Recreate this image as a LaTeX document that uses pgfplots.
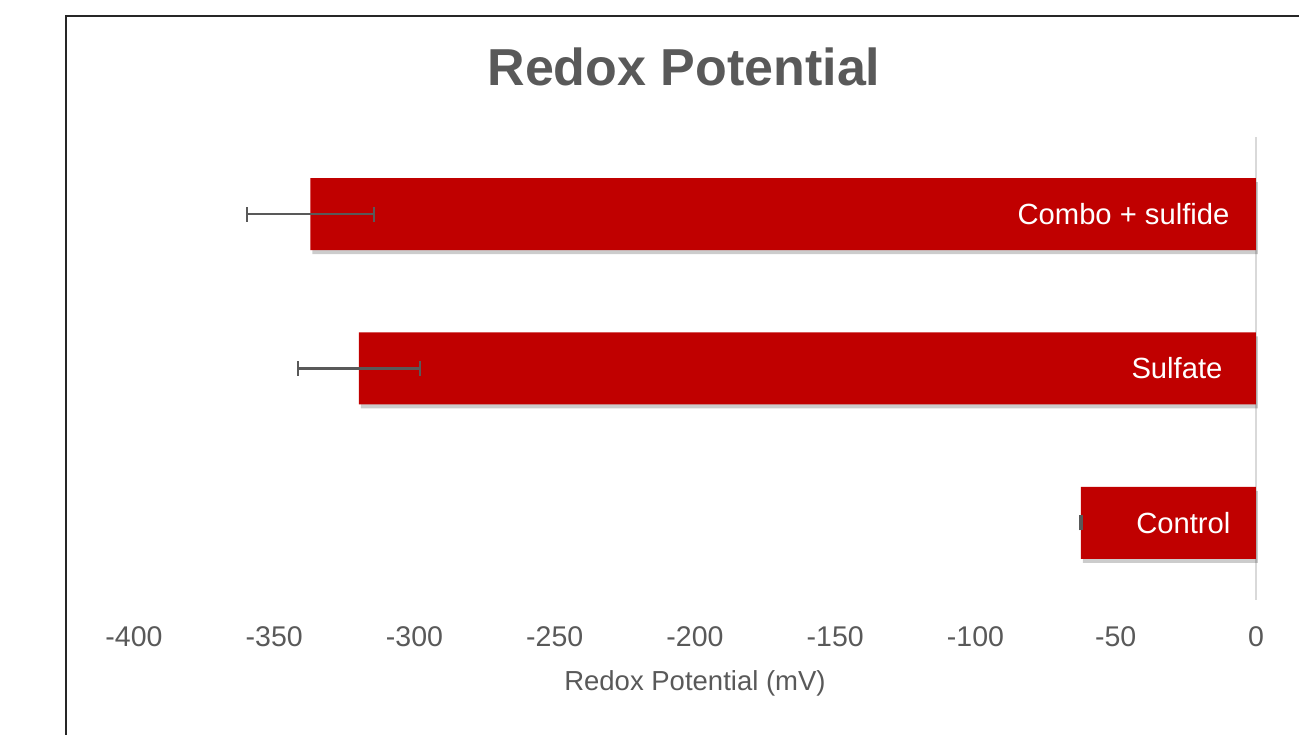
\documentclass[border=0pt]{standalone}
\usepackage{pgfplots}
\pgfplotsset{compat=1.18}
\usepackage{fontspec}
\setmainfont{Liberation Sans}
\usetikzlibrary{shadows}
\definecolor{barred}{HTML}{C00000}
\definecolor{textgray}{HTML}{595959}
\definecolor{zerogray}{HTML}{D9D9D9}
\begin{document}
\begin{tikzpicture}[x=1pt,y=1pt]
\path[use as bounding box] (0,0) rectangle (1299,735);
\draw[line width=2pt, color=black!85] (66,-10) -- (66,719) -- (1310,719);
\node[font=\bfseries\fontsize{52}{56}\selectfont, text=textgray] at (684,668) {Redox Potential};
\begin{axis}[
  at={(134pt,135pt)}, anchor=south west,
  scale only axis, width=1122pt, height=463pt,
  xmin=-400, xmax=0, ymin=-0.5, ymax=2.5,
  axis line style={draw=none},
  ytick=\empty,
  xtick={-400,-350,...,0},
  major tick length=0pt,
  /pgf/number format/assume math mode=true,
  tick label style={font=\fontsize{28.5}{30}\selectfont, text=textgray},
  xticklabel style={yshift=-23pt},
  xlabel={Redox Potential (mV)},
  xlabel style={at={(axis description cs:0.5,0)}, anchor=center, yshift=-83pt, font=\fontsize{27.5}{30}\selectfont, text=textgray},
  clip=false,
]
\draw[zerogray, line width=2pt] (axis cs:0,-0.5) -- (axis cs:0,2.5);
\addplot[xbar, bar width=72pt, fill=barred, draw=none,
  drop shadow={shadow xshift=2pt, shadow yshift=-4pt, opacity=0.2, fill=black},
  error bars/.cd, x dir=both, x explicit, error mark=|,
  error bar style={line width=2.2pt, color=textgray},
  error mark options={line width=2.2pt, mark size=7.5pt, color=textgray}]
  table[x=v, y=y, x error=e] {
y v e
0 -62.4 0.3
1 -319.8 21.7
2 -337.1 22.6
};
\node[anchor=east, text=white, font=\fontsize{29.2}{32}\selectfont, xshift=-22pt] at (axis cs:0,0) {Control};
\node[anchor=east, text=white, font=\fontsize{29.2}{32}\selectfont, xshift=-30pt] at (axis cs:0,1) {Sulfate};
\node[anchor=east, text=white, font=\fontsize{29.2}{32}\selectfont, xshift=-23pt] at (axis cs:0,2) {Combo + sulfide};
\end{axis}
\end{tikzpicture}
\end{document}
